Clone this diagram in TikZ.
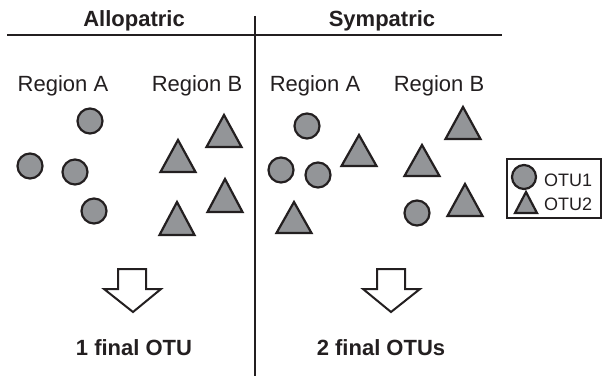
\documentclass[tikz,border=0pt]{standalone}
\usepackage{fontspec}
\setmainfont{Liberation Sans}
\definecolor{otugray}{HTML}{939598}
\definecolor{inkblack}{HTML}{231F20}
\begin{document}
\begin{tikzpicture}[x=1pt,y=-1pt,
    otu/.style={draw=inkblack,fill=otugray,line width=2.2pt,line join=miter},
    rule/.style={draw=inkblack,line width=2pt},
    bigarrow/.style={draw=inkblack,fill=white,line width=2pt,line join=miter},
    title/.style={font=\fontsize{22}{26}\selectfont\bfseries,text=inkblack,anchor=base,inner sep=0pt},
    region/.style={font=\fontsize{22}{26}\selectfont,text=inkblack,anchor=base,inner sep=0pt},
    legendtext/.style={font=\fontsize{18}{22}\selectfont,text=inkblack,anchor=base west,inner sep=0pt}]
    \useasboundingbox (0,0) rectangle (603,377);
    \node[title] (allo) at (134,27) {Allopatric};
    \node[title] (symp) at (382,27) {Sympatric};
    \draw[rule] (7,35) -- (502,35); %ligne sous les titres
    \draw[rule] (255,16) -- (255,376); %separation
    \node[region] (alloA) at (63,92) {Region A};
    \node[region] (alloB) at (197,92) {Region B};
    \node[region] (sympA) at (315,92) {Region A};
    \node[region] (sympB) at (439,92) {Region B};
    % allopatric
    \draw[otu] (90,121) circle (12.5);
    \draw[otu] (30,166) circle (12.5);
    \draw[otu] (75,172) circle (12.5);
    \draw[otu] (94,211) circle (12.5);
    \draw[otu] (160.5,172) -- ++(17.5,-32) -- ++(17.5,32) -- cycle;
    \draw[otu] (206.5,147) -- ++(17.5,-32) -- ++(17.5,32) -- cycle;
    \draw[otu] (159.5,235) -- ++(17.5,-33) -- ++(17.5,33) -- cycle;
    \draw[otu] (207.5,212) -- ++(17.5,-33) -- ++(17.5,33) -- cycle;
    % sympatric
    \draw[otu] (307,126) circle (12.5);
    \draw[otu] (281,170) circle (12.5);
    \draw[otu] (318,175) circle (12.5);
    \draw[otu] (417,213) circle (12.5);
    \draw[otu] (341.5,166) -- ++(17.5,-31) -- ++(17.5,31) -- cycle;
    \draw[otu] (404.5,176) -- ++(17.5,-31) -- ++(17.5,31) -- cycle;
    \draw[otu] (445.5,139) -- ++(17.5,-32) -- ++(17.5,32) -- cycle;
    \draw[otu] (276.5,233) -- ++(17.5,-31) -- ++(17.5,31) -- cycle;
    \draw[otu] (447.5,216) -- ++(17.5,-32) -- ++(17.5,32) -- cycle;
    % legende
    \draw[rule] (507,159) rectangle (601,218);
    \draw[otu] (524,177) circle (12);
    \draw[otu] (515,213) -- ++(11,-21) -- ++(11,21) -- cycle;
    \node[legendtext] (otu1) at (544,186) {OTU1};
    \node[legendtext] (otu2) at (544,211) {OTU2};
    % fleches
    \draw[bigarrow] (118,269) -- (146,269) -- (146,289) -- (161,289) -- (133,312) -- (104,289) -- (118,289) -- cycle;
    \draw[bigarrow] (377,269) -- (405,269) -- (405,289) -- (420,289) -- (391,312) -- (363,289) -- (377,289) -- cycle;
    \node[title] (res1) at (134,355) {1 final OTU};
    \node[title] (res2) at (381,355) {2 final OTUs};
\end{tikzpicture}
\end{document}
